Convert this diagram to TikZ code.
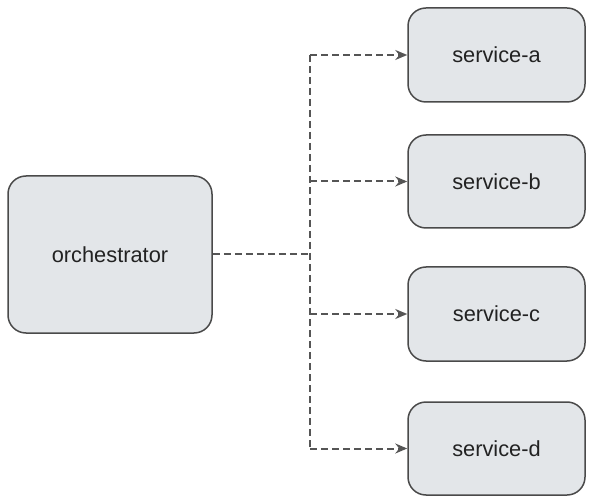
\documentclass[tikz,border=0pt]{standalone}
\usepackage{fontspec}
\setmainfont{Liberation Sans}
\usetikzlibrary{arrows.meta}
\definecolor{boxfill}{HTML}{E3E6E9}
\definecolor{boxline}{HTML}{4A4A4A}
\definecolor{linkc}{HTML}{555555}
\definecolor{txt}{HTML}{222222}
\begin{document}
\begin{tikzpicture}[x=1pt,y=-1pt,
  box/.style={draw=boxline, line width=1.5pt, fill=boxfill, rounded corners=18pt,
    inner sep=0pt, text=txt, font=\fontsize{21.8}{26}\selectfont},
  link/.style={draw=linkc, line width=2pt, dash pattern=on 7pt off 4pt},
  tip/.style={-{Stealth[length=12pt,width=10pt,inset=4pt]}}
]
\useasboundingbox (0,0) rectangle (591,502);
\node[box, minimum width=204pt, minimum height=157pt] (orch) at (110,254.5) {orchestrator};
\node[box, minimum width=177pt, minimum height=94pt] (sa) at (496.5,55) {service-a};
\node[box, minimum width=177pt, minimum height=93pt] (sb) at (496.5,181.5) {service-b};
\node[box, minimum width=177pt, minimum height=94pt] (sc) at (496.5,314) {service-c};
\node[box, minimum width=177pt, minimum height=93pt] (sd) at (496.5,448.5) {service-d};
\coordinate (j) at (310,254.5);
\coordinate (ja) at (310,55);
\coordinate (jb) at (310,181.5);
\coordinate (jc) at (310,314);
\coordinate (jd) at (310,448.5);
\draw[link] (orch.east) -- (j);
\draw[link] (ja) -- (jd);
\draw[link,tip] (ja) -- (sa.west);
\draw[link,tip] (jb) -- (sb.west);
\draw[link,tip] (jc) -- (sc.west);
\draw[link,tip] (jd) -- (sd.west);
\end{tikzpicture}
\end{document}
